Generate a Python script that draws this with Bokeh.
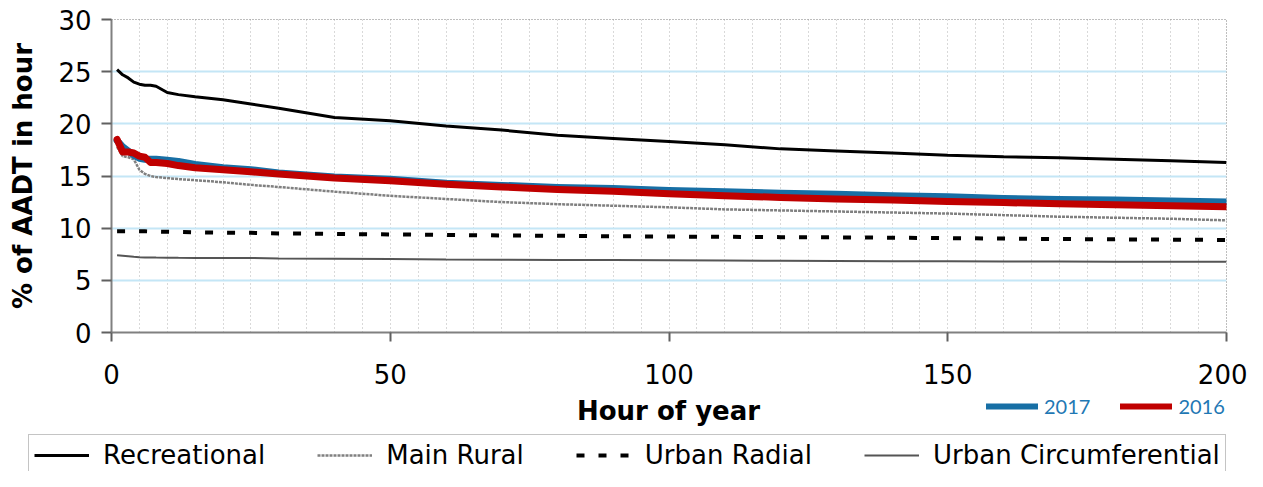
from bokeh.plotting import figure
from bokeh.layouts import column
from bokeh.models import (Legend, LegendItem, FixedTicker, SingleIntervalTicker,
                          Range1d, Label)
from bokeh.embed import file_html
from bokeh.resources import INLINE

# ---------------- data ----------------
hours = [1, 2, 3, 4, 5, 6, 7, 8, 10, 12, 15, 20, 25, 30, 40, 50, 60, 70, 80, 90,
         100, 110, 120, 130, 140, 150, 160, 170, 180, 190, 200]

recreational = [25.2, 24.7, 24.4, 24.0, 23.8, 23.7, 23.7, 23.6, 23.0, 22.8, 22.6, 22.3,
                21.9, 21.5, 20.6, 20.3, 19.8, 19.4, 18.9, 18.6, 18.3, 18.0, 17.6, 17.4,
                17.2, 17.0, 16.85, 16.75, 16.6, 16.45, 16.3]

main_rural = [17.8, 16.9, 16.8, 16.6, 15.6, 15.2, 15.0, 14.9, 14.8, 14.7, 14.6, 14.4,
              14.15, 13.95, 13.5, 13.1, 12.8, 12.5, 12.3, 12.15, 12.0, 11.8, 11.7, 11.6,
              11.5, 11.4, 11.25, 11.1, 11.0, 10.9, 10.75]

urban_radial = [9.7, 9.7, 9.7, 9.7, 9.7, 9.7, 9.68, 9.67, 9.65, 9.63, 9.6, 9.57,
                9.55, 9.5, 9.45, 9.4, 9.35, 9.3, 9.27, 9.22, 9.2, 9.17, 9.14, 9.12,
                9.08, 9.05, 9.0, 8.96, 8.93, 8.9, 8.87]

urban_circ = [7.4, 7.35, 7.3, 7.25, 7.22, 7.2, 7.2, 7.18, 7.17, 7.16, 7.15, 7.15,
              7.14, 7.1, 7.08, 7.05, 7.0, 6.98, 6.96, 6.94, 6.92, 6.9, 6.88, 6.86,
              6.84, 6.82, 6.8, 6.8, 6.79, 6.78, 6.78]

y2017 = [18.4, 17.8, 17.4, 17.0, 16.7, 16.6, 16.6, 16.6, 16.5, 16.4, 16.1, 15.8,
         15.6, 15.3, 14.9, 14.7, 14.3, 14.1, 13.9, 13.8, 13.6, 13.5, 13.35, 13.25,
         13.1, 13.0, 12.85, 12.75, 12.7, 12.6, 12.5]

y2016 = [18.5, 17.3, 17.3, 17.2, 16.9, 16.8, 16.3, 16.3, 16.2, 16.0, 15.8, 15.6,
         15.4, 15.2, 14.8, 14.55, 14.2, 13.95, 13.7, 13.55, 13.3, 13.1, 12.95, 12.8,
         12.7, 12.55, 12.45, 12.35, 12.25, 12.15, 12.05]

x_ticks = [0, 50, 100, 150, 200]
y_ticks = [0, 5, 10, 15, 20, 25, 30]

series_labels = ["Recreational", "Main Rural", "Urban Radial", "Urban Circumferential"]
year_labels = ["2017", "2016"]
x_title = "Hour of year"
y_title = "% of AADT in hour"

# ---------------- styles ----------------
STY = {
    "rec": dict(line_color="black", line_width=3),
    "rural": dict(line_color="#808080", line_width=2.5, line_dash="3 1"),
    "radial": dict(line_color="black", line_width=4, line_dash="8 14"),
    "circ": dict(line_color="#555555", line_width=2),
    "y2017": dict(line_color="#176fa5", line_width=7, line_cap="round", line_join="round"),
    "y2016": dict(line_color="#c00000", line_width=7, line_cap="round", line_join="round"),
}

# ---------------- main chart ----------------
W = 1247
H_MAIN = 394
H_LEG = 77

p = figure(width=W, height=H_MAIN, output_backend="svg", toolbar_location=None,
           x_range=Range1d(0, 200), y_range=Range1d(0, 30),
           min_border_left=111, min_border_right=21, min_border_top=19,
           min_border_bottom=62)

p.background_fill_color = "white"
p.border_fill_color = "white"
p.outline_line_color = "#444444"
p.outline_line_dash = "1 2"
p.outline_line_alpha = 0.7

p.ygrid.ticker = FixedTicker(ticks=y_ticks[:-1])
p.ygrid.grid_line_color = "#c4e6f6"
p.ygrid.grid_line_width = 2
p.xgrid.ticker = SingleIntervalTicker(interval=5)
p.xgrid.grid_line_color = "#222222"
p.xgrid.grid_line_alpha = 0.35
p.xgrid.grid_line_dash = "1 3"
p.xgrid.grid_line_width = 1

p.xaxis.ticker = FixedTicker(ticks=x_ticks)
p.yaxis.ticker = FixedTicker(ticks=y_ticks)
for ax in (p.xaxis[0], p.yaxis[0]):
    ax.axis_line_color = "#808080"
    ax.axis_line_width = 2
    ax.major_tick_line_color = "#606060"
    ax.major_tick_line_width = 2
    ax.major_tick_in = 0
    ax.minor_tick_line_color = None
    ax.major_label_text_font = "DejaVu Sans"
    ax.major_label_text_font_size = "26px"
    ax.major_label_text_color = "black"
    ax.axis_label_text_font = "DejaVu Sans"
    ax.axis_label_text_font_size = "26px"
    ax.axis_label_text_font_style = "bold"
    ax.axis_label_text_color = "black"

p.xaxis.major_tick_out = 9
p.xaxis.major_label_standoff = 22

p.yaxis.axis_label = y_title
p.yaxis.major_tick_out = 10
p.yaxis.major_label_standoff = 10
p.yaxis.axis_label_standoff = 17

p.line(hours, urban_circ, **STY["circ"])
p.line(hours, urban_radial, **STY["radial"])
p.line(hours, main_rural, **STY["rural"])
p.line(hours, recreational, **STY["rec"])
p.line(hours, y2017, **STY["y2017"])
p.line(hours, y2016, **STY["y2016"])

# ---------------- strip below: x title + legends ----------------
q = figure(width=W, height=H_LEG, output_backend="svg", toolbar_location=None,
           x_axis_location=None, y_axis_location=None,
           min_border_left=0, min_border_right=0, min_border_top=0,
           min_border_bottom=0)
for fig in (p, q):
    if "frame_align" in fig.properties():
        fig.frame_align = False
q.outline_line_color = None
q.background_fill_color = "white"
q.border_fill_color = "white"
q.grid.visible = False

# legend swatch proxies: a single NaN point each, so nothing is drawn in the strip
NAN = [float("nan")]
k_rec = q.line(NAN, NAN, **STY["rec"])
k_rural = q.line(NAN, NAN, **STY["rural"])
k_radial = q.line(NAN, NAN, **STY["radial"])
k_circ = q.line(NAN, NAN, **STY["circ"])
k_2017 = q.line(NAN, NAN, **dict(STY["y2017"], line_width=6))
k_2016 = q.line(NAN, NAN, **dict(STY["y2016"], line_width=6))

q.add_layout(Label(x=668, y=H_LEG - 1, x_units="screen", y_units="screen",
                   text=x_title, text_align="center", text_baseline="top",
                   text_font="DejaVu Sans", text_font_size="26px",
                   text_font_style="bold", text_color="black"))

legend_years = Legend(
    items=[LegendItem(label=year_labels[0], renderers=[k_2017]),
           LegendItem(label=year_labels[1], renderers=[k_2016])],
    orientation="horizontal", location=(986, 53),
    border_line_color=None, background_fill_alpha=0,
    label_text_font="Lato", label_text_font_size="20px",
    label_text_color="#1f78b4",
    glyph_width=52, glyph_height=16, label_standoff=6, spacing=30,
    padding=0, margin=0, label_height=20,
)
q.add_layout(legend_years)

legend_main = Legend(
    items=[LegendItem(label=series_labels[0], renderers=[k_rec]),
           LegendItem(label=series_labels[1], renderers=[k_rural]),
           LegendItem(label=series_labels[2], renderers=[k_radial]),
           LegendItem(label=series_labels[3], renderers=[k_circ])],
    orientation="horizontal", location=(28, -5),
    border_line_color="#8a8a8a", border_line_width=1,
    background_fill_color="white", background_fill_alpha=1,
    label_text_font="DejaVu Sans", label_text_font_size="26px",
    label_text_color="black",
    glyph_width=55, glyph_height=20, label_standoff=14, spacing=52,
    padding=5, margin=0, label_height=26,
)
q.add_layout(legend_main)

layout = column(p, q, spacing=0)
open("out.html", "w").write(file_html(layout, INLINE))
